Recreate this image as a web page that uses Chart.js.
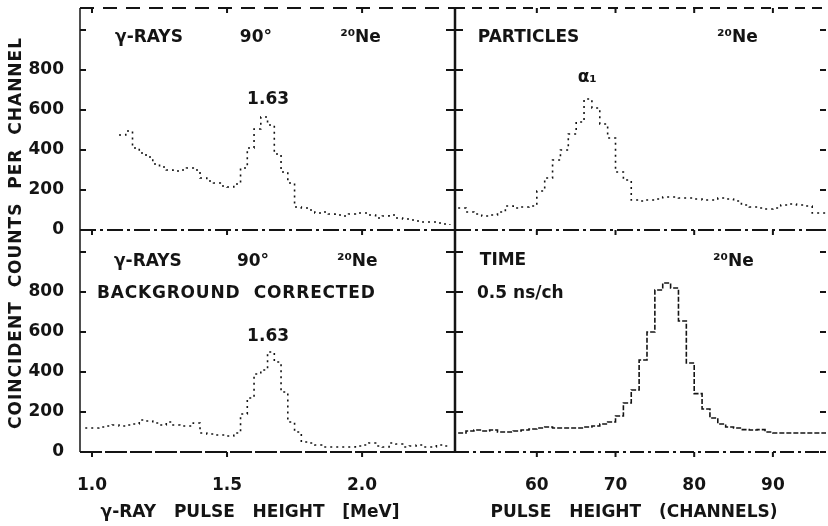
<!DOCTYPE html>
<html lang="en">
<head>
  <meta charset="UTF-8">
  <title>20Ne coincidence spectra</title>
  <script src="https://cdn.jsdelivr.net/npm/chart.js@4.4.1/dist/chart.umd.min.js"></script>
  <style>
    body { margin: 0; background-color: #ffffff; }
    #figure { position: relative; width: 828px; height: 526px; }
    #figure canvas { position: absolute; left: 0; top: 0; }
  </style>
</head>
<body>
  <div id="figure">
    <canvas id="gammaChart" width="828" height="526"></canvas>
    <canvas id="particleChart" width="828" height="526"></canvas>
    <canvas id="gammaCorrChart" width="828" height="526"></canvas>
    <canvas id="timeChart" width="828" height="526"></canvas>
  </div>

  <script>
    // gamma-ray spectrum at 90 deg (channel start in MeV, counts per channel)
    const gammaEnergy = [
      1.100, 1.125, 1.150, 1.175, 1.200, 1.225, 1.250, 1.275, 1.300, 1.325,
      1.350, 1.375, 1.400, 1.425, 1.450, 1.475, 1.500, 1.525, 1.550, 1.575,
      1.600, 1.625, 1.650, 1.675, 1.700, 1.725, 1.750, 1.775, 1.800, 1.825,
      1.850, 1.875, 1.900, 1.925, 1.950, 1.975, 2.000, 2.025, 2.050, 2.075,
      2.100, 2.125, 2.150, 2.175, 2.200, 2.225, 2.250, 2.275, 2.300, 2.325
    ];
    const gammaCounts = [
      475, 495, 410, 385, 365, 330, 315, 300, 295, 300,
      310, 300, 260, 245, 235, 220, 215, 230, 310, 410,
      505, 565, 525, 380, 290, 235, 115, 110, 100, 85,
      90, 80, 75, 70, 80, 85, 85, 75, 60, 70,
      75, 60, 55, 50, 45, 40, 40, 35, 30, 25
    ];

    // same spectrum, background corrected
    const gammaCorrEnergy = [
      0.975, 1.000, 1.025, 1.050, 1.075, 1.100, 1.125, 1.150, 1.175, 1.200,
      1.225, 1.250, 1.275, 1.300, 1.325, 1.350, 1.375, 1.400, 1.425, 1.450,
      1.475, 1.500, 1.525, 1.550, 1.575, 1.600, 1.625, 1.650, 1.675, 1.700,
      1.725, 1.750, 1.775, 1.800, 1.825, 1.850, 1.875, 1.900, 1.925, 1.950,
      1.975, 2.000, 2.025, 2.050, 2.075, 2.100, 2.125, 2.150, 2.175, 2.200,
      2.225, 2.250, 2.275, 2.300, 2.325
    ];
    const gammaCorrCounts = [
      120, 120, 125, 130, 135, 130, 135, 140, 160, 155,
      145, 135, 150, 135, 130, 130, 145, 95, 90, 85,
      85, 80, 95, 190, 270, 390, 410, 500, 450, 300,
      150, 100, 50, 45, 35, 25, 25, 25, 25, 25,
      30, 35, 45, 30, 25, 45, 40, 25, 30, 35,
      25, 25, 35, 30, 25
    ];

    // particle and time spectra share the channel axis
    const channels = [
      50, 51, 52, 53, 54, 55, 56, 57, 58, 59,
      60, 61, 62, 63, 64, 65, 66, 67, 68, 69,
      70, 71, 72, 73, 74, 75, 76, 77, 78, 79,
      80, 81, 82, 83, 84, 85, 86, 87, 88, 89,
      90, 91, 92, 93, 94, 95, 96, 97
    ];
    const particleCounts = [
      110, 90, 80, 70, 75, 90, 120, 110, 115, 120,
      195, 260, 350, 400, 480, 540, 655, 610, 530, 460,
      290, 250, 150, 145, 150, 155, 165, 165, 160, 160,
      155, 150, 150, 160, 155, 145, 125, 115, 110, 105,
      110, 125, 130, 125, 120, 85, 85, 85
    ];
    const timeCounts = [
      95, 105, 110, 105, 110, 100, 100, 105, 110, 115,
      120, 125, 120, 120, 120, 120, 125, 130, 140, 150,
      180, 245, 310, 460, 600, 810, 845, 820, 655, 445,
      292, 215, 170, 140, 125, 120, 112, 110, 112, 100,
      95, 95, 95, 95, 95, 95, 95, 95
    ];

    const energyTicks = [1.0, 1.5, 2.0];
    const channelTicks = [60, 70, 80, 90];
    const countTicks = [0, 200, 400, 600, 800, 1000];
    const countTickLabels = ['0', '200', '400', '600', '800', ''];

    const INK = '#141414';
    const FONT = '"DejaVu Sans", sans-serif';

    Chart.defaults.font.family = FONT;
    Chart.defaults.font.size = 17;
    Chart.defaults.font.weight = 'bold';
    Chart.defaults.color = INK;

    // panel frame with inward/outward tick marks taken from the scales
    const framePlugin = {
      id: 'frame',
      afterDraw(chart, args, opts) {
        const { ctx, chartArea: a, scales } = chart;
        ctx.save();
        ctx.strokeStyle = INK;
        ['top', 'bottom', 'left', 'right'].forEach(side => {
          const s = opts[side];
          if (!s) return;
          const horiz = side === 'top' || side === 'bottom';
          const pos = a[side];
          if (s.width) {
            ctx.lineWidth = s.width;
            ctx.setLineDash(s.dash || []);
            ctx.beginPath();
            if (horiz) { ctx.moveTo(a.left, pos); ctx.lineTo(a.right, pos); }
            else { ctx.moveTo(pos, a.top); ctx.lineTo(pos, a.bottom); }
            ctx.stroke();
          }
          const scale = horiz ? scales.x : scales.y;
          const sign = (side === 'top' || side === 'left') ? 1 : -1;
          const from = pos - sign * (s.out || 0);
          const to = pos + sign * (s.in || 0);
          ctx.setLineDash([]);
          ctx.lineWidth = 2;
          ctx.beginPath();
          scale.ticks.forEach(t => {
            const p = scale.getPixelForValue(t.value);
            if (horiz) { ctx.moveTo(p, from); ctx.lineTo(p, to); }
            else { ctx.moveTo(from, p); ctx.lineTo(to, p); }
          });
          ctx.stroke();
        });
        ctx.restore();
      }
    };

    // labels inside the panels (data units) and page titles (pixels)
    const labelPlugin = {
      id: 'labels',
      afterDraw(chart, args, opts) {
        const { ctx, scales } = chart;
        ctx.save();
        ctx.fillStyle = INK;
        ctx.textBaseline = 'middle';
        ctx.font = 'bold 17px ' + FONT;
        (opts.inPanel || []).forEach(item => {
          ctx.letterSpacing = (item.spacing || 0) + 'px';
          ctx.textAlign = item.align || 'left';
          ctx.fillText(item.text, scales.x.getPixelForValue(item.x), scales.y.getPixelForValue(item.y));
        });
        (opts.page || []).forEach(item => {
          ctx.save();
          ctx.letterSpacing = (item.spacing || 0) + 'px';
          ctx.textAlign = 'center';
          ctx.translate(item.x, item.y);
          ctx.rotate((item.rotation || 0) * Math.PI / 180);
          ctx.fillText(item.text, 0, 0);
          ctx.restore();
        });
        ctx.restore();
      }
    };

    // keep tick labels from pushing the plot area around
    function noLabelPadding(s) {
      s.paddingTop = 0;
      s.paddingBottom = 0;
      s.paddingLeft = 0;
      s.paddingRight = 0;
    }

    function drawPanel(canvasId, xs, counts, cfg) {
      return new Chart(document.getElementById(canvasId), {
        type: 'line',
        data: {
          datasets: [{
            data: xs.map((v, i) => ({ x: v, y: counts[i] })),
            borderColor: INK,
            borderWidth: 1.6,
            borderDash: cfg.dash,
            stepped: true,
            pointRadius: 0,
            fill: false
          }]
        },
        options: {
          responsive: false,
          animation: false,
          layout: { padding: cfg.padding },
          plugins: {
            legend: { display: false },
            tooltip: { enabled: false },
            frame: cfg.frame,
            labels: { inPanel: cfg.labels, page: cfg.titles || [] }
          },
          scales: {
            x: {
              type: 'linear',
              min: cfg.xMin,
              max: cfg.xMax,
              afterBuildTicks: s => { s.ticks = cfg.xTicks.map(v => ({ value: v })); },
              afterFit: s => { s.height = cfg.showX ? 74 : 0; noLabelPadding(s); },
              grid: { display: false },
              border: { display: false },
              ticks: {
                display: cfg.showX,
                padding: 15,
                autoSkip: false,
                maxRotation: 0,
                callback: cfg.xFormat
              }
            },
            y: {
              type: 'linear',
              min: 0,
              max: 1110,
              afterBuildTicks: s => { s.ticks = countTicks.map(v => ({ value: v })); },
              afterFit: s => { s.width = cfg.showY ? 80 : 0; noLabelPadding(s); },
              grid: { display: false },
              border: { display: false },
              ticks: {
                display: cfg.showY,
                padding: 8,
                autoSkip: false,
                callback: (v, i) => countTickLabels[i]
              }
            }
          }
        },
        plugins: [framePlugin, labelPlugin]
      });
    }

    const energyFormat = v => v.toFixed(1);
    const channelFormat = v => String(v);

    drawPanel('gammaChart', gammaEnergy, gammaCounts, {
      padding: { left: 0, top: 8, right: 373, bottom: 296 },
      xMin: 0.9556, xMax: 2.344, xTicks: energyTicks, xFormat: energyFormat,
      showX: false, showY: true, dash: [2, 4],
      frame: {
        top: { width: 2, dash: [14, 9], in: 5 },
        left: { width: 1.5, in: 6 },
        right: { width: 2.5, in: 9, out: 8 }
      },
      labels: [
        { text: 'γ-RAYS', x: 1.211, y: 960, align: 'center' },
        { text: '90°', x: 1.607, y: 960, align: 'center' },
        { text: '²⁰Ne', x: 1.919, y: 960 },
        { text: '1.63', x: 1.652, y: 650, align: 'center' }
      ]
    });

    drawPanel('particleChart', channels, particleCounts, {
      padding: { left: 455, top: 8, right: 2, bottom: 296 },
      xMin: 49.6, xMax: 96.75, xTicks: channelTicks, xFormat: channelFormat,
      showX: false, showY: false, dash: [2, 4],
      frame: {
        top: { width: 2, dash: [10, 7], in: 5 },
        right: { width: 0, in: 6 }
      },
      labels: [
        { text: 'PARTICLES', x: 52.5, y: 960 },
        { text: '²⁰Ne', x: 82.9, y: 960 },
        { text: 'α₁', x: 66.4, y: 760, align: 'center' }
      ]
    });

    drawPanel('gammaCorrChart', gammaCorrEnergy, gammaCorrCounts, {
      padding: { left: 0, top: 230, right: 373, bottom: 0 },
      xMin: 0.9556, xMax: 2.344, xTicks: energyTicks, xFormat: energyFormat,
      showX: true, showY: true, dash: [2, 4],
      frame: {
        top: { width: 2, dash: [16, 4, 3, 4], in: 5 },
        bottom: { width: 2, dash: [22, 3], out: 5 },
        left: { width: 1.5, in: 6 },
        right: { width: 2.5, in: 9, out: 8 }
      },
      labels: [
        { text: 'γ-RAYS', x: 1.207, y: 950, align: 'center' },
        { text: '90°', x: 1.596, y: 950, align: 'center' },
        { text: '²⁰Ne', x: 1.907, y: 950 },
        { text: 'BACKGROUND  CORRECTED', x: 1.0185, y: 790, spacing: 0.8 },
        { text: '1.63', x: 1.652, y: 575, align: 'center' }
      ],
      titles: [
        { text: 'COINCIDENT  COUNTS  PER  CHANNEL', x: 17, y: 233, rotation: -90, spacing: 1 },
        { text: 'γ-RAY   PULSE   HEIGHT   [MeV]', x: 250, y: 513 }
      ]
    });

    drawPanel('timeChart', channels, timeCounts, {
      padding: { left: 455, top: 230, right: 2, bottom: 0 },
      xMin: 49.6, xMax: 96.75, xTicks: channelTicks, xFormat: channelFormat,
      showX: true, showY: false, dash: [5, 2],
      frame: {
        top: { width: 2, dash: [16, 4, 3, 4], in: 5 },
        bottom: { width: 2, dash: [14, 4, 3, 4], out: 5 },
        right: { width: 0, in: 6 }
      },
      labels: [
        { text: 'TIME', x: 52.75, y: 955 },
        { text: '0.5 ns/ch', x: 52.4, y: 790 },
        { text: '²⁰Ne', x: 82.4, y: 950 }
      ],
      titles: [
        { text: 'PULSE   HEIGHT   (CHANNELS)', x: 634, y: 513 }
      ]
    });
  </script>
</body>
</html>
